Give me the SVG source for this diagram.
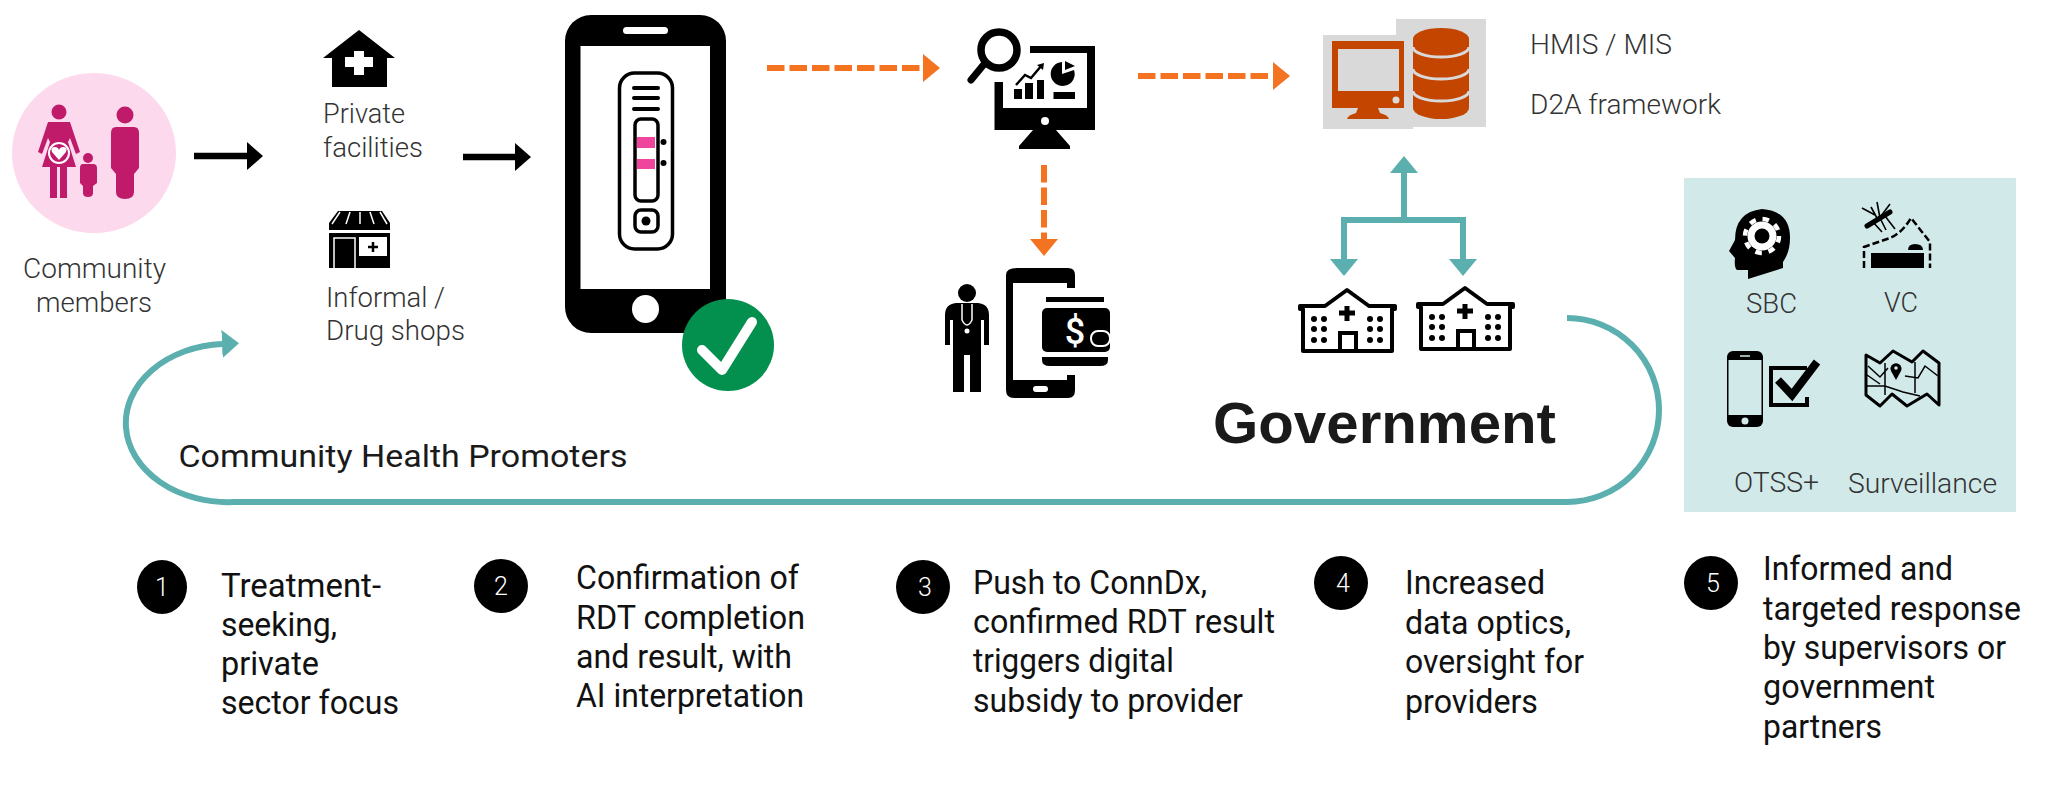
<svg xmlns="http://www.w3.org/2000/svg" width="2048" height="796" viewBox="0 0 2048 796">
<style>
text{font-family:Roboto,"Liberation Sans",sans-serif}
.l{font-size:28px;font-weight:300;fill:#333}
.b{font-size:33px;font-weight:400;fill:#111}
.n{font-size:25px;font-weight:300;fill:#fff;text-anchor:middle}
.t{fill:none;stroke:#5bafae;stroke-width:6}
.o{fill:none;stroke:#f47320;stroke-width:6;stroke-dasharray:17.5 5}
.k{fill:none;stroke:#000;stroke-width:6.5}
</style>
<defs>
<marker id="ao" markerUnits="userSpaceOnUse" markerWidth="17" markerHeight="28" refX="0" refY="14" orient="auto"><path d="M0 0L17 14L0 28Z" fill="#f47320"/></marker>
<marker id="at" markerUnits="userSpaceOnUse" markerWidth="17" markerHeight="28" refX="0" refY="14" orient="auto"><path d="M0 0L17 14L0 28Z" fill="#5bafae"/></marker>
<marker id="ak" markerUnits="userSpaceOnUse" markerWidth="16" markerHeight="28" refX="0" refY="14" orient="auto"><path d="M0 0L16 14L0 28Z" fill="#000"/></marker>
<g id="hosp">
<path d="M1347 290L1325 306H1300V309H1303V351H1392V309H1395V306H1369Z" fill="#fff" stroke="#000" stroke-width="4" stroke-linejoin="round"/>
<path d="M1340 351V333H1356V351" fill="none" stroke="#000" stroke-width="4"/>
<path d="M1347 306V321M1339 313H1355" stroke="#000" stroke-width="5" fill="none"/>
<g fill="#000"><circle cx="1314" cy="319" r="3"/><circle cx="1324" cy="319" r="3"/><circle cx="1314" cy="329" r="3"/><circle cx="1324" cy="329" r="3"/><circle cx="1314" cy="340" r="3"/><circle cx="1324" cy="340" r="3"/><circle cx="1370" cy="319" r="3"/><circle cx="1380" cy="319" r="3"/><circle cx="1370" cy="329" r="3"/><circle cx="1380" cy="329" r="3"/><circle cx="1370" cy="340" r="3"/><circle cx="1380" cy="340" r="3"/></g>
</g>
</defs>
<rect width="2048" height="796" fill="#fff"/>

<g id="connectors">
<path class="k" d="M194 156H247" marker-end="url(#ak)"/>
<path class="k" d="M463 157H515" marker-end="url(#ak)"/>
<path class="o" d="M767 68H923" marker-end="url(#ao)"/>
<path class="o" d="M1138 76H1273" marker-end="url(#ao)"/>
<path class="o" d="M1044 165V239" marker-end="url(#ao)"/>
<path class="t" d="M1404 220V173" marker-end="url(#at)"/>
<path class="t" d="M1344 259V220H1463V259" fill="none"/>
<path class="t" d="M1344 250V259" marker-end="url(#at)"/>
<path class="t" d="M1463 250V259" marker-end="url(#at)"/>
<path class="t" d="M1567 318A92 92 0 0 1 1567 502H234A102 79 0 0 1 222 344" marker-end="url(#at)"/>
</g>

<g id="community">
<ellipse cx="94" cy="153" rx="82" ry="80" fill="#fcd9ec"/>
<g fill="#c01a6b">
<circle cx="59" cy="112" r="7.5"/>
<path d="M48 122H70L80 152L76 154L70 138L68 142L76 167H67V198H60V167H57V198H50V167H42L50 142L48 138L42 154L38 152Z"/>
<circle cx="125" cy="115" r="8.5"/>
<path d="M116 127H134Q139 127 139 133V168L134 174V192Q134 199 125 199Q116 199 116 192V174L111 168V133Q111 127 116 127Z"/>
<circle cx="88" cy="158" r="5"/>
<path d="M83 164H93Q97 164 97 168V183L93 186V193Q93 197 88 197Q83 197 83 193V186L80 183V168Q80 164 83 164Z"/>
</g>
<circle cx="59" cy="153" r="10" fill="#c01a6b" stroke="#fff" stroke-width="2"/>
<path d="M59 160L52 152Q50 147 55 147Q58 147 59 150Q60 147 63 147Q68 147 66 152Z" fill="#fff"/>
<text class="l" x="23" y="278" textLength="143" lengthAdjust="spacingAndGlyphs">Community</text>
<text class="l" x="36" y="312" textLength="116" lengthAdjust="spacingAndGlyphs">members</text>
</g>

<g id="private-facilities">
<path d="M359 30L395 58H387V87H332V58H323Z" fill="#000"/>
<path d="M354 51H364V57H373V67H364V75H354V67H345V57H354Z" fill="#fff"/>
<text class="l" x="323" y="123" textLength="82" lengthAdjust="spacingAndGlyphs">Private</text>
<text class="l" x="323" y="157" textLength="100" lengthAdjust="spacingAndGlyphs">facilities</text>
</g>

<g id="drug-shops">
<path d="M338 211H382L390 223V230H329V223Z" fill="#000"/>
<path d="M340 212L332 224M350 212L346 224M360 212V224M370 212L374 224M380 212L387 224" stroke="#fff" stroke-width="1.5"/>
<path d="M329 233H390V268H329Z" fill="#000"/>
<path d="M334 268V238H355V268" fill="#000" stroke="#fff" stroke-width="1.5"/>
<rect x="359" y="237" width="28" height="19" fill="#fff"/>
<path d="M373 242V252M368 247H378" stroke="#000" stroke-width="2.5"/>
<text class="l" x="326" y="307" textLength="119" lengthAdjust="spacingAndGlyphs">Informal /</text>
<text class="l" x="326" y="340" textLength="139" lengthAdjust="spacingAndGlyphs">Drug shops</text>
</g>

<g id="phone-rdt">
<rect x="565" y="15" width="161" height="318" rx="26" fill="#000"/>
<rect x="580.5" y="46" width="129.500" height="243" fill="#fff"/>
<rect x="623" y="27" width="45" height="7" rx="3.500" fill="#fff"/>
<ellipse cx="645.500" cy="309" rx="13.500" ry="14" fill="#fff"/>
<rect x="619.500" y="73" width="53" height="176" rx="15" fill="#fff" stroke="#000" stroke-width="3.500"/>
<path d="M634 88H658M634 98H658M634 109H658" stroke="#000" stroke-width="4" stroke-linecap="round"/>
<rect x="635" y="119" width="23" height="82" rx="6" fill="#fff" stroke="#000" stroke-width="3.500"/>
<rect x="637" y="137" width="18" height="11" fill="#f0459c"/>
<rect x="637" y="159" width="18" height="10" fill="#f0459c"/>
<circle cx="663.500" cy="142" r="3" fill="#000"/>
<circle cx="663.500" cy="163" r="3" fill="#000"/>
<rect x="635" y="210" width="23" height="22" rx="6" fill="#fff" stroke="#000" stroke-width="3.500"/>
<circle cx="646" cy="221" r="4.500" fill="#000"/>
<circle cx="728" cy="345" r="46" fill="#038f4d"/>
<path d="M702 350L722 370L752 322" fill="none" stroke="#fff" stroke-width="10" stroke-linecap="round" stroke-linejoin="round"/>
</g>

<g id="conndx">
<path d="M1030 46H1095V130H994.500V82H1003V108H1087V53H1030Z" fill="#000"/>
<circle cx="1045" cy="121" r="4" fill="#fff"/>
<path d="M1033 130H1056L1070 146V149H1019V146Z" fill="#000"/>
<circle cx="999" cy="50" r="18" fill="#fff" stroke="#000" stroke-width="7.500"/>
<path d="M985 63L971 80" stroke="#000" stroke-width="7" stroke-linecap="round"/>
<path d="M1014 89h8v10h-8zM1025 83h8v16h-8zM1037 80h7v19h-7zM1053.500 92H1075V99H1053.500Z" fill="#000"/>
<path d="M1016 85L1025 75L1031 78L1042 65" fill="none" stroke="#000" stroke-width="2.500"/>
<path d="M1037 65L1044 63L1043 70Z" fill="#000"/>
<path d="M1062 62V74L1074 70A12 12 0 1 1 1062 62Z" fill="#000"/>
<path d="M1065 61L1075 66L1065 70Z" fill="#000"/>
</g>

<g id="provider-subsidy">
<circle cx="967" cy="293" r="9" fill="#000"/>
<path d="M956 303H978Q989 304 989 315V345H984V320H981V392H970V355H964V392H953V320H950V345H945V315Q945 304 956 303Z" fill="#000"/>
<path d="M962 304V320Q967 330 972 320V304" fill="none" stroke="#fff" stroke-width="1.500"/>
<circle cx="967" cy="331" r="2.500" fill="#fff"/>
<path d="M1017 268H1068Q1075 268 1075 275V288H1067V283H1013V380H1067V375H1075V390Q1075 398 1068 398H1014Q1006 398 1006 390V275Q1006 268 1017 268Z" fill="#000"/>
<rect x="1033" y="386" width="15" height="6" rx="3" fill="#fff"/>
<path d="M1046 297H1104V302H1046Z" fill="#000"/>
<rect x="1042" y="308" width="68" height="44" rx="5" fill="#000"/>
<path d="M1042 357H1108V360Q1108 366 1100 366H1050Q1042 366 1042 360Z" fill="#000"/>
<text x="1075" y="344" font-size="36" font-weight="500" fill="#fff" text-anchor="middle">$</text>
<rect x="1091" y="331" width="19" height="15" rx="7" fill="#000" stroke="#fff" stroke-width="2"/>
</g>

<g id="hmis">
<rect x="1323" y="35" width="90" height="94" fill="#d9d9d9"/>
<rect x="1396" y="19" width="90" height="108" fill="#d9d9d9"/>
<path d="M1332 41H1404V108H1332ZM1338 49V91H1399V49Z" fill="#c44500" fill-rule="evenodd"/>
<circle cx="1396" cy="100" r="3.500" fill="#d9d9d9"/>
<path d="M1358 108H1378L1380 113Q1388 115 1389 119H1347Q1348 115 1356 113Z" fill="#c44500"/>
<path d="M1413 39A28 11 0 0 1 1469 39V108A28 11 0 0 1 1413 108Z" fill="#c44500"/>
<path d="M1413 47A28 10 0 0 0 1469 47M1413 69A28 10 0 0 0 1469 69M1413 91A28 10 0 0 0 1469 91" fill="none" stroke="#d9d9d9" stroke-width="3"/>
<text class="l" x="1530" y="54" textLength="142" lengthAdjust="spacingAndGlyphs">HMIS / MIS</text>
<text class="l" x="1530" y="114" textLength="191" lengthAdjust="spacingAndGlyphs">D2A framework</text>
</g>

<g id="government">
<use href="#hosp"/>
<use href="#hosp" x="118" y="-2"/>
<text x="1213" y="443" font-size="57" font-weight="700" fill="#1a1a1a" style="font-family:'Liberation Sans',sans-serif" textLength="343" lengthAdjust="spacingAndGlyphs">Government</text>
</g>

<g id="chp">
<text x="178.500" y="467" font-size="31" font-weight="400" fill="#1a1a1a" textLength="449" lengthAdjust="spacingAndGlyphs">Community Health Promoters</text>
</g>

<g id="response-panel">
<rect x="1684" y="178" width="332" height="334" fill="#d1e9e9"/>
<path d="M1762 209Q1790 211 1790 238Q1790 252 1783 262V268L1748 279V270H1737Q1734 268 1735 258L1729 251L1735 240Q1735 212 1762 209Z" fill="#000"/>
<circle cx="1762" cy="236" r="14.500" fill="#fff"/>
<circle cx="1762" cy="236" r="17" fill="none" stroke="#fff" stroke-width="4.500" stroke-dasharray="6.500 6.860"/>
<circle cx="1762" cy="236" r="7.500" fill="#000"/>
<text class="l" x="1746" y="313" textLength="51" lengthAdjust="spacingAndGlyphs">SBC</text>
<path d="M1864 268V247L1890 238Q1902 233 1911 218L1930 242V268" fill="none" stroke="#000" stroke-width="2.500" stroke-dasharray="7 3"/>
<rect x="1871" y="253" width="53" height="15" fill="#000"/>
<path d="M1908 250Q1908 244 1915 244Q1923 244 1923 250Z" fill="#000"/>
<path d="M1867 226L1890 212" stroke="#000" stroke-width="5" stroke-linecap="round"/>
<path d="M1877 202L1880 218L1886 230M1890 204L1878 220L1871 207M1862 208L1875 215M1873 222L1882 232M1885 216L1895 229" fill="none" stroke="#000" stroke-width="1.600"/>
<text class="l" x="1884" y="312" textLength="34" lengthAdjust="spacingAndGlyphs">VC</text>
<rect x="1727" y="351" width="36" height="76" rx="6" fill="#000"/>
<rect x="1728.500" y="360" width="33" height="55" fill="#d1e9e9"/>
<circle cx="1745" cy="421" r="3.500" fill="#d1e9e9"/>
<path d="M1740 356H1750" stroke="#d1e9e9" stroke-width="1.500"/>
<path d="M1807 368H1771V405H1807V397" fill="none" stroke="#000" stroke-width="4"/>
<path d="M1778 380L1792 395L1817 362" fill="none" stroke="#000" stroke-width="8"/>
<text class="l" x="1734" y="492" textLength="85" lengthAdjust="spacingAndGlyphs">OTSS+</text>
<path d="M1866 355L1880 363L1893 351L1912 362L1923 351L1939 363V405L1927 394L1907 406L1892 394L1880 406L1866 395Z" fill="none" stroke="#000" stroke-width="3" stroke-linejoin="round"/>
<path d="M1867 375L1880 384M1866 386H1885L1903 392L1920 396M1885 363V395M1915 362V393M1905 376L1918 378L1925 366L1938 376M1868 366L1880 377L1888 368" fill="none" stroke="#000" stroke-width="1.500"/>
<path d="M1896 380L1891 371A5.500 5.500 0 1 1 1901 371Z" fill="#000"/>
<circle cx="1896" cy="368" r="1.800" fill="#d1e9e9"/>
<text class="l" x="1848" y="493" textLength="149" lengthAdjust="spacingAndGlyphs">Surveillance</text>
</g>

<g id="step-1">
<ellipse cx="162" cy="587" rx="25" ry="27"/>
<text class="n" x="162" y="596">1</text>
<text class="b" x="221" y="597" textLength="160" lengthAdjust="spacingAndGlyphs">Treatment-</text>
<text class="b" x="221" y="636" textLength="116" lengthAdjust="spacingAndGlyphs">seeking,</text>
<text class="b" x="221" y="675" textLength="98" lengthAdjust="spacingAndGlyphs">private</text>
<text class="b" x="221" y="714" textLength="178" lengthAdjust="spacingAndGlyphs">sector focus</text>
</g>
<g id="step-2">
<ellipse cx="501" cy="586" rx="27" ry="27"/>
<text class="n" x="501" y="595">2</text>
<text class="b" x="576" y="589" textLength="223" lengthAdjust="spacingAndGlyphs">Confirmation of</text>
<text class="b" x="576" y="629" textLength="229" lengthAdjust="spacingAndGlyphs">RDT completion</text>
<text class="b" x="576" y="668" textLength="216" lengthAdjust="spacingAndGlyphs">and result, with</text>
<text class="b" x="576" y="707" textLength="228" lengthAdjust="spacingAndGlyphs">AI interpretation</text>
</g>
<g id="step-3">
<ellipse cx="923" cy="587" rx="27" ry="27"/>
<text class="n" x="925" y="596">3</text>
<text class="b" x="973" y="594" textLength="234" lengthAdjust="spacingAndGlyphs">Push to ConnDx,</text>
<text class="b" x="973" y="633" textLength="302" lengthAdjust="spacingAndGlyphs">confirmed RDT result</text>
<text class="b" x="973" y="672" textLength="201" lengthAdjust="spacingAndGlyphs">triggers digital</text>
<text class="b" x="973" y="712" textLength="270" lengthAdjust="spacingAndGlyphs">subsidy to provider</text>
</g>
<g id="step-4">
<ellipse cx="1341" cy="583" rx="27" ry="27"/>
<text class="n" x="1343" y="592">4</text>
<text class="b" x="1405" y="594" textLength="140" lengthAdjust="spacingAndGlyphs">Increased</text>
<text class="b" x="1405" y="634" textLength="166" lengthAdjust="spacingAndGlyphs">data optics,</text>
<text class="b" x="1405" y="673" textLength="179" lengthAdjust="spacingAndGlyphs">oversight for</text>
<text class="b" x="1405" y="713" textLength="133" lengthAdjust="spacingAndGlyphs">providers</text>
</g>
<g id="step-5">
<circle cx="1711" cy="583" r="27"/>
<text class="n" x="1713" y="592">5</text>
<text class="b" x="1763" y="580" textLength="190" lengthAdjust="spacingAndGlyphs">Informed and</text>
<text class="b" x="1763" y="620" textLength="258" lengthAdjust="spacingAndGlyphs">targeted response</text>
<text class="b" x="1763" y="659" textLength="243" lengthAdjust="spacingAndGlyphs">by supervisors or</text>
<text class="b" x="1763" y="698" textLength="172" lengthAdjust="spacingAndGlyphs">government</text>
<text class="b" x="1763" y="738" textLength="119" lengthAdjust="spacingAndGlyphs">partners</text>
</g>
</svg>
